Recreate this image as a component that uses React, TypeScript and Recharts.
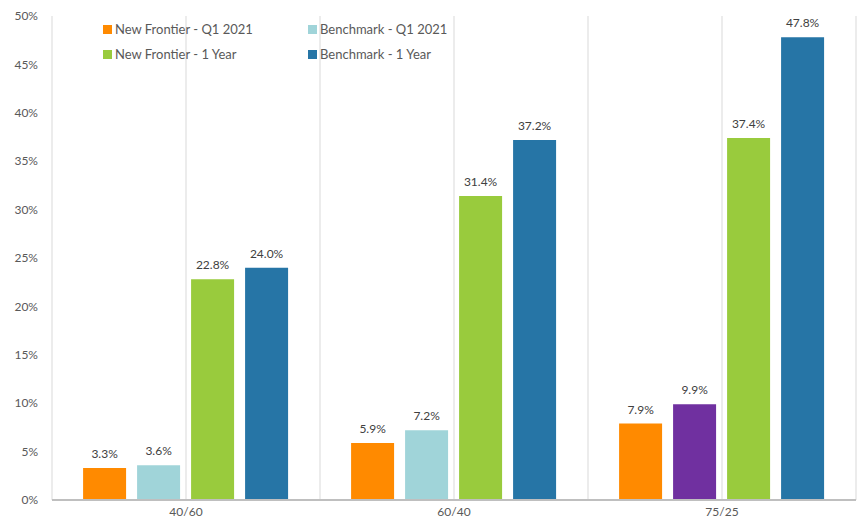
import { Bar, BarChart, CartesianGrid, Cell, LabelList, XAxis, YAxis } from 'recharts';

const categories = ['40/60', '60/40', '75/25'];
const newFrontierQ1 = [3.3, 5.9, 7.9];
const benchmarkQ1 = [3.6, 7.2, 9.9];
const newFrontier1Y = [22.8, 31.4, 37.4];
const benchmark1Y = [24.0, 37.2, 47.8];
const yTicks = [0, 5, 10, 15, 20, 25, 30, 35, 40, 45, 50];

const series = [
  { key: 'nfQ1', name: 'New Frontier - Q1 2021', color: '#FF8A00' },
  { key: 'bmQ1', name: 'Benchmark - Q1 2021', color: '#A0D4D9' },
  { key: 'nf1Y', name: 'New Frontier - 1 Year', color: '#99CB3D' },
  { key: 'bm1Y', name: 'Benchmark - 1 Year', color: '#2675A6' },
];

const data = categories.map((c, i) => ({
  name: c,
  nfQ1: newFrontierQ1[i],
  bmQ1: benchmarkQ1[i],
  nf1Y: newFrontier1Y[i],
  bm1Y: benchmark1Y[i],
}));

const font = 'Lato, "Open Sans", sans-serif';
const textColor = '#595959';

function LegendBox() {
  return (
    <div
      style={{
        position: 'absolute',
        left: 103,
        top: 20,
        display: 'grid',
        gridTemplateColumns: '205px 160px',
        rowGap: 6,
        fontFamily: font,
        fontSize: 13,
        color: textColor,
      }}
    >
      {series.map((s) => (
        <div key={s.key} style={{ display: 'flex', alignItems: 'center', lineHeight: '19px' }}>
          <span style={{ width: 9, height: 9, background: s.color, display: 'inline-block', marginRight: 3 }} />
          {s.name}
        </div>
      ))}
    </div>
  );
}

export default function App() {
  const fmt = (v: any) => `${Number(v).toFixed(1)}%`;
  return (
    <div style={{ position: 'absolute', left: 0, top: 0, width: 864, height: 518, background: '#fff' }}>
      <BarChart
        width={864}
        height={518}
        data={data}
        margin={{ top: 16, right: 8, bottom: 0, left: 0 }}
        barCategoryGap="11.6%"
        barGap={11}
      >
        <CartesianGrid
          horizontal={false}
          stroke="#d9d9d9"
          verticalCoordinatesGenerator={({ offset }: any) =>
            [0, 1, 2, 3, 4, 5, 6].map((i) => offset.left + (i * offset.width) / 6)
          }
        />
        <XAxis
          dataKey="name"
          height={18}
          tickLine={false}
          axisLine={{ stroke: '#bfbfbf', strokeWidth: 2 }}
          tick={{ fill: textColor, fontSize: 12, fontFamily: font }}
          tickMargin={1}
        />
        <YAxis
          width={52}
          domain={[0, 50]}
          ticks={yTicks}
          axisLine={false}
          tickLine={false}
          tickSize={0}
          tickMargin={14}
          tickFormatter={(v) => `${v}%`}
          tick={{ fill: textColor, fontSize: 12, fontFamily: font }}
        />
        {series.map((s) => (
          <Bar key={s.key} dataKey={s.key} name={s.name} fill={s.color} isAnimationActive={false}>
            {s.key === 'bmQ1' &&
              data.map((d, i) => <Cell key={d.name} fill={i === 2 ? '#7030A0' : s.color} />)}
            <LabelList
              dataKey={s.key}
              position="top"
              offset={10}
              formatter={fmt}
              style={{ fill: '#404040', fontSize: 12, fontFamily: font }}
            />
          </Bar>
        ))}
      </BarChart>
      <LegendBox />
    </div>
  );
}
